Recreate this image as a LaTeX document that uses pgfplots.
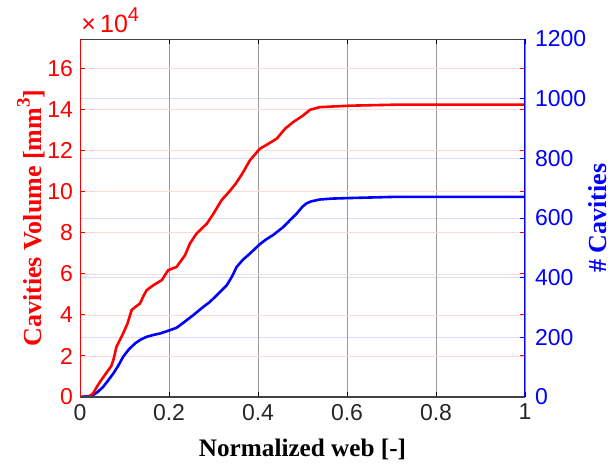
\documentclass[border=0pt]{standalone}
\usepackage{pgfplots}
\pgfplotsset{compat=1.18}
\usepackage{fontspec}
\setmainfont{Liberation Serif}
\newfontfamily\tickfont{Liberation Sans}
\definecolor{lred}{rgb}{1,0.85,0.85}
\definecolor{lblue}{rgb}{0.86,0.86,1}
\definecolor{axgray}{rgb}{0.25,0.25,0.3}
\begin{document}
\begin{tikzpicture}
\pgfplotsset{
  common/.style={
    set layers,
    scale only axis, width=222.5pt, height=179pt,
    xmin=0, xmax=1,
    axis line style={draw=none},
    tick align=inside,
    major tick length=2.5pt,
    /pgf/number format/assume math mode=true,
    /pgf/number format/1000 sep={},
    tick label style={font=\tickfont\fontsize{11.5}{13}\selectfont},
    scaled y ticks=false,
  }
}
\begin{axis}[common,
  ymin=0, ymax=1200,
  ytick={0,200,...,1200},
  axis x line=none,
  ytick pos=right,
  ymajorgrids, y grid style={lblue, line width=0.4pt},
  y tick style={blue, line width=0.5pt},
  yticklabel style={blue, xshift=1.5pt},
]
\addplot[blue, line width=1.3pt] coordinates {
(0,0) (0.007,1) (0.02,3) (0.03,7) (0.04,17) (0.052,34) (0.063,55) (0.075,79) (0.086,105) (0.097,135) (0.11,160) (0.124,180)
(0.137,193) (0.15,202) (0.165,208) (0.18,213) (0.202,224) (0.217,232) (0.235,252) (0.255,275) (0.272,296) (0.292,319)
(0.31,345) (0.33,375) (0.342,405) (0.352,436) (0.366,460) (0.382,481) (0.404,512) (0.418,528) (0.434,543) (0.457,570)
(0.472,593) (0.487,615) (0.5,638) (0.509,649) (0.52,656) (0.539,662) (0.565,665) (0.607,667) (0.712,671) (1,671)
};
\end{axis}
\begin{axis}[common,
  ymin=0, ymax=17.45,
  xtick={0,0.2,0.4,0.6,0.8,1},
  xticklabels={0,0.2,0.4,0.6,0.8,1},
  ytick={0,2,...,16},
  xtick pos=both, ytick pos=both,
  xmajorgrids, x grid style={black!40, line width=0.4pt},
  ymajorgrids, y grid style={lred, line width=0.4pt},
  x tick style={black, line width=0.5pt},
  y tick style={red, line width=0.5pt},
  yticklabel style={red},
  xticklabel style={black!85},
]
\addplot[red, line width=1.3pt] coordinates {
(0,0) (0.02,0) (0.03,0.2) (0.038,0.5) (0.045,0.74) (0.06,1.2) (0.07,1.5) (0.075,1.8) (0.082,2.45)
(0.09,2.8) (0.097,3.1) (0.107,3.6) (0.116,4.24) (0.125,4.4) (0.135,4.56) (0.142,4.9) (0.15,5.21) (0.165,5.45)
(0.184,5.70) (0.198,6.18) (0.217,6.34) (0.236,6.91) (0.247,7.48) (0.262,7.97)
(0.285,8.45) (0.30,8.94) (0.318,9.59) (0.335,10.0) (0.35,10.4) (0.365,10.9)
(0.382,11.54) (0.404,12.1) (0.42,12.3) (0.442,12.59) (0.461,13.08) (0.479,13.4)
(0.50,13.7) (0.517,14.0) (0.539,14.13) (0.607,14.2) (0.712,14.25) (1,14.25)
};
\draw[axgray, line width=0.8pt] (rel axis cs:0,0) -- (rel axis cs:1,0);
\draw[axgray, line width=0.5pt] (rel axis cs:0,1) -- (rel axis cs:1,1);
\draw[red, line width=0.6pt] (rel axis cs:0,0) -- (rel axis cs:0,1);
\draw[blue, line width=0.6pt] (rel axis cs:1,0) -- (rel axis cs:1,1);
\coordinate (TL) at (rel axis cs:0,1);
\coordinate (LM) at (rel axis cs:0,0.5);
\coordinate (RM) at (rel axis cs:1,0.5);
\coordinate (BM) at (rel axis cs:0.5,0);
\end{axis}
\node[anchor=south west, red, font=\tickfont\fontsize{12.5}{14}\selectfont, inner sep=0pt] at ([xshift=0.5pt,yshift=3pt]TL) {×\,10\raisebox{0.45em}{\fontsize{10}{11}\selectfont 4}};
\node[red, rotate=90, font=\bfseries\fontsize{13}{15}\selectfont] at ([xshift=-24.5pt]LM) {Cavities Volume [mm\raisebox{0.45em}{\fontsize{9.5}{10}\selectfont\bfseries 3}]};
\node[blue, rotate=90, font=\bfseries\fontsize{13}{15}\selectfont] at ([xshift=36.5pt]RM) {\# Cavities};
\node[black, font=\bfseries\fontsize{12.6}{15}\selectfont] at ([yshift=-26pt]BM) {Normalized web [-]};
\pgfresetboundingbox
\useasboundingbox (-40pt,-33pt) rectangle (268pt,198.5pt);
\end{tikzpicture}
\end{document}
